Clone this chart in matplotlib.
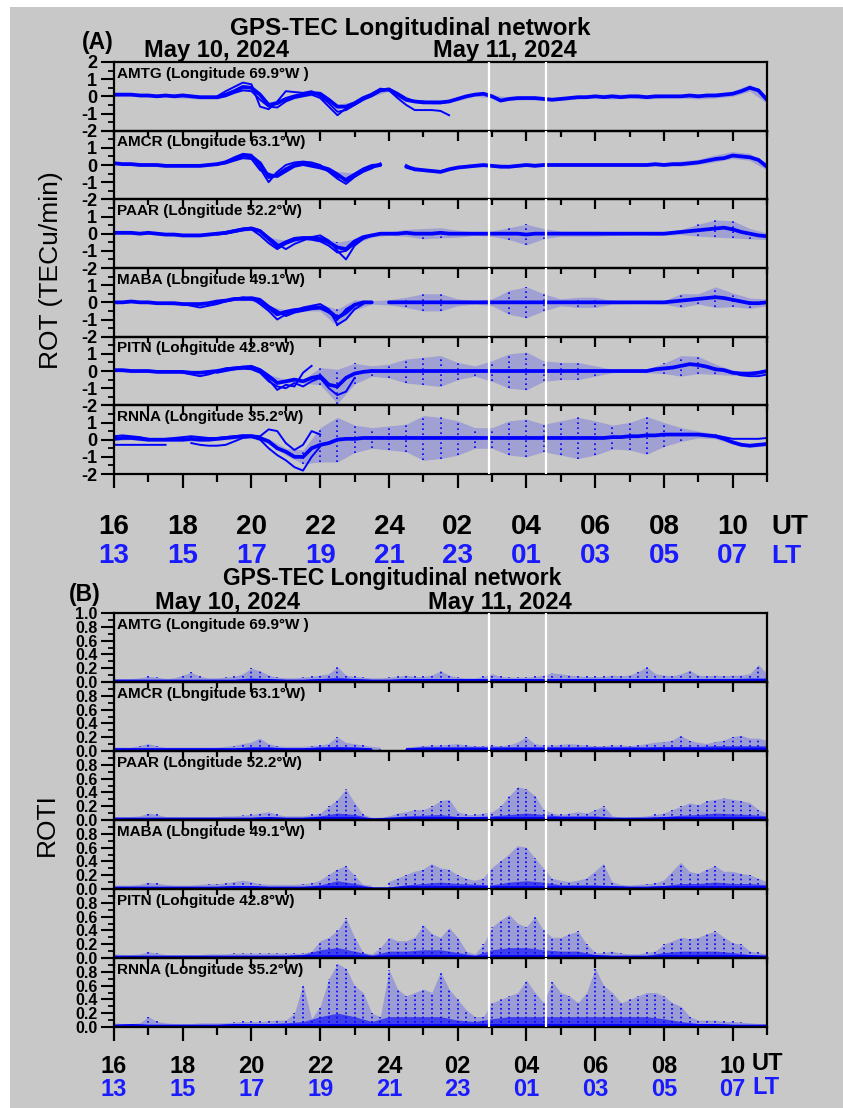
import numpy as np
import matplotlib
matplotlib.use("Agg")
import matplotlib.pyplot as plt
from matplotlib.ticker import MultipleLocator
from matplotlib.patches import Rectangle

nan = np.nan

# ------------------------------------------------------------------ data
STATIONS = ['AMTG (Longitude 69.9°W )', 'AMCR (Longitude 63.1°W)',
            'PAAR (Longitude 52.2°W)', 'MABA (Longitude 49.1°W)',
            'PITN (Longitude 42.8°W)', 'RNNA (Longitude 35.2°W)']

UT_TICKS = [16, 18, 20, 22, 24, 26, 28, 30, 32, 34]          # hours from May 10 00 UT
UT_LABELS = ['16', '18', '20', '22', '24', '02', '04', '06', '08', '10']
LT_LABELS = ['13', '15', '17', '19', '21', '23', '01', '03', '05', '07']
WHITE_LINES_UT = [26.9, 28.58]

T_FINE = np.arange(16.0, 35.001, 0.25)    # 77 samples (quarter hours)
T_COARSE = np.arange(16.0, 35.001, 0.5)   # 39 samples (half hours)

# ---- ROT (TECu/min): central trace every 0.25 h
ROT_AMTG = [0.10, 0.10, 0.10, 0.05, 0.05, 0.00, 0.05, 0.00, 0.05, 0.00, -0.05, -0.05,
            -0.05, 0.10, 0.30, 0.55, 0.50, 0.10, -0.50, -0.40, -0.15, 0.00, 0.10, 0.20,
            0.15, -0.20, -0.60, -0.60, -0.40, -0.10, 0.10, 0.35, 0.40, 0.10, -0.20, -0.30,
            -0.35, -0.35, -0.35, -0.30, -0.15, 0.00, 0.10, 0.15, 0.00, -0.25, -0.15, -0.10,
            -0.10, -0.10, -0.15, -0.20, -0.15, -0.10, -0.05, -0.05, 0.00, -0.05, 0.00, -0.05,
            0.00, 0.00, -0.05, 0.00, 0.00, 0.00, 0.00, 0.05, 0.00, 0.05, 0.05, 0.10,
            0.15, 0.30, 0.50, 0.35, -0.20]
ROT_AMCR = [0.10, 0.05, 0.05, 0.00, 0.00, 0.00, -0.05, -0.05, -0.05, -0.05, -0.05, 0.00,
            0.05, 0.15, 0.35, 0.55, 0.50, 0.10, -0.70, -0.60, -0.25, 0.00, 0.10, 0.00,
            -0.10, -0.25, -0.55, -0.90, -0.60, -0.30, -0.10, 0.00, nan, nan, -0.10, -0.25,
            -0.30, -0.35, -0.40, -0.25, -0.15, -0.10, -0.05, 0.00, -0.05, -0.10, -0.10, -0.05,
            0.00, -0.05, 0.00, 0.00, 0.00, 0.00, 0.00, 0.00, 0.00, 0.00, 0.00, 0.00,
            0.00, 0.00, 0.00, 0.05, 0.00, 0.05, 0.05, 0.10, 0.15, 0.25, 0.35, 0.40,
            0.55, 0.50, 0.45, 0.30, -0.10]
ROT_PAAR = [0.05, 0.05, 0.05, 0.00, 0.05, 0.00, -0.05, -0.05, -0.10, -0.10, -0.10, -0.05,
            0.00, 0.05, 0.15, 0.25, 0.30, 0.15, -0.30, -0.75, -0.50, -0.30, -0.25, -0.25,
            -0.30, -0.50, -0.80, -0.90, -0.45, -0.20, -0.10, 0.00, 0.00, 0.00, 0.05, 0.00,
            0.00, 0.00, 0.05, 0.00, 0.00, 0.00, 0.00, 0.00, 0.00, 0.00, 0.00, 0.00,
            -0.05, 0.00, 0.00, 0.00, 0.00, 0.00, 0.00, 0.00, 0.00, 0.00, 0.00, 0.00,
            0.00, 0.00, 0.00, 0.00, 0.00, 0.05, 0.10, 0.15, 0.20, 0.25, 0.30, 0.35,
            0.25, 0.10, 0.00, -0.10, -0.15]
ROT_MABA = [0.00, 0.00, 0.05, 0.00, 0.00, -0.05, -0.05, -0.05, -0.10, -0.10, -0.10, -0.05,
            0.05, 0.10, 0.20, 0.20, 0.20, 0.10, -0.30, -0.70, -0.55, -0.45, -0.40, -0.30,
            -0.30, -0.50, -0.90, -0.60, -0.15, 0.00, 0.00, nan, 0.00, 0.00, 0.00, 0.00,
            0.00, 0.00, 0.00, 0.00, 0.00, 0.00, 0.00, 0.00, 0.00, 0.00, 0.00, 0.00,
            0.00, 0.00, 0.00, 0.00, 0.00, 0.00, 0.00, 0.00, 0.00, 0.00, 0.00, 0.00,
            0.00, 0.00, 0.00, 0.00, 0.00, 0.05, 0.10, 0.15, 0.20, 0.25, 0.30, 0.25,
            0.15, 0.05, -0.05, -0.05, 0.00]
ROT_PITN = [0.05, 0.05, 0.00, 0.00, 0.00, -0.05, -0.05, -0.05, -0.05, -0.10, -0.10, -0.05,
            0.00, 0.10, 0.15, 0.20, 0.20, 0.05, -0.30, -0.70, -0.60, -0.50, -0.60, -0.40,
            -0.30, -0.80, -0.90, -0.40, -0.15, -0.05, 0.00, 0.00, 0.00, 0.00, 0.00, 0.00,
            0.00, 0.00, 0.00, 0.00, 0.00, 0.00, 0.00, 0.00, 0.00, 0.00, 0.00, 0.00,
            0.00, 0.00, 0.00, 0.00, 0.00, 0.00, 0.00, 0.00, 0.00, 0.00, 0.00, 0.00,
            0.00, 0.00, 0.00, 0.10, 0.15, 0.20, 0.30, 0.40, 0.35, 0.25, 0.10, 0.05,
            -0.10, -0.15, -0.15, -0.10, 0.00]
ROT_RNNA = [0.05, 0.10, 0.10, 0.05, 0.00, 0.00, 0.00, 0.00, 0.00, 0.05, 0.00, 0.00,
            0.05, 0.10, 0.15, 0.20, 0.20, 0.10, -0.10, -0.50, -0.70, -1.00, -1.00, -0.50,
            -0.30, -0.20, 0.00, 0.05, 0.05, 0.10, 0.10, 0.10, 0.10, 0.10, 0.10, 0.10,
            0.10, 0.10, 0.10, 0.10, 0.10, 0.10, 0.10, 0.10, 0.10, 0.10, 0.10, 0.10,
            0.10, 0.10, 0.10, 0.10, 0.10, 0.10, 0.10, 0.10, 0.10, 0.10, 0.15, 0.15,
            0.20, 0.20, 0.25, 0.25, 0.30, 0.30, 0.30, 0.30, 0.30, 0.25, 0.20, 0.05,
            -0.15, -0.30, -0.35, -0.30, -0.25]

# ---- additional satellite arcs: (start hour, values every 0.25 h)
ALT_AMTG = [(19.0, [0.00, 0.30, 0.55, 0.80, 0.70, -0.60, -0.75, -0.30, 0.30, 0.25, 0.20, 0.30,
                    0.00, -0.40, -0.90, -0.80, -0.50, -0.20, 0.15, 0.45, 0.35, -0.10, -0.50, -0.80,
                    -0.80, -0.80, -0.85, -1.10]),
            (19.0, [-0.10, 0.00, 0.20, 0.35, 0.30, -0.20, -0.60, -0.65, -0.30, -0.10, 0.00, 0.10,
                    -0.10, -0.60, -1.10, -0.70, -0.50, -0.20, 0.00, 0.30, 0.45, 0.20, -0.10, -0.30,
                    -0.30, -0.40, -0.40, -0.30, -0.15])]
ALT_AMCR = [(19.0, [0.00, 0.20, 0.45, 0.65, 0.60, -0.20, -1.00, -0.40, 0.00, 0.15, 0.20, 0.15,
                    0.00, -0.40, -0.80, -1.10, -0.70, -0.40, -0.20, 0.10, nan, nan, 0.00, -0.30]),
            (19.0, [0.05, 0.10, 0.25, 0.40, 0.35, -0.30, -0.50, -0.70, -0.40, -0.10, 0.00, -0.10,
                    -0.20, -0.35, -0.70, -0.80, -0.50, -0.20, 0.00, 0.05])]
ALT_PAAR = [(19.0, [0.00, 0.10, 0.20, 0.30, 0.35, 0.20, -0.20, -0.60, -0.90, -0.60, -0.40, -0.20,
                    -0.10, -0.40, -1.00, -1.50, -0.70, -0.30, -0.10, 0.00]),
            (19.0, [-0.05, 0.00, 0.10, 0.20, 0.25, -0.10, -0.55, -0.90, -0.60, -0.40, -0.30, -0.35,
                    -0.45, -0.70, -1.10, -1.00, -0.60, -0.30, -0.10])]
ALT_MABA = [(19.0, [0.00, 0.10, 0.20, 0.30, 0.25, -0.10, -0.50, -1.00, -0.70, -0.50, -0.30, -0.20,
                    -0.10, -0.40, -1.30, -1.00, -0.40, -0.10]),
            (18.0, [-0.10, -0.20, -0.30, -0.20, -0.10, 0.05, 0.15, 0.25, 0.30, 0.20, -0.20, -0.50,
                    -0.80, -0.60, -0.50, -0.40, -0.35, -0.60, -1.00, -0.40, -0.10])]
ALT_PITN = [(18.0, [-0.10, -0.20, -0.30, -0.20, -0.05, 0.15, 0.20, 0.25, 0.30, 0.10, -0.50, -1.10,
                    -0.80, -0.90, -0.10, 0.30]),
            (19.0, [-0.10, 0.00, 0.10, 0.15, 0.10, -0.10, -0.60, -0.90, -1.00, -0.70, -0.90, -0.60,
                    -0.40, -1.00, -1.40, -1.20, -0.40]),
            (33.75, [0.00, -0.10, -0.25, -0.30, -0.30, -0.20])]
ALT_RNNA = [(16.0, [0.20, 0.25, 0.20, 0.15, 0.05, 0.00, 0.05, 0.10, 0.15, 0.20, 0.15, 0.10,
                    0.10, 0.15, 0.20, 0.25, 0.25, 0.20, 0.60, 0.50, -0.20, -0.60, -0.30, 0.50, 0.30]),
            (16.0, [-0.30, -0.30, -0.30, -0.30, -0.30, -0.30, -0.30, nan, nan, -0.20, -0.30, -0.35,
                    -0.35, -0.30, -0.10, 0.10, 0.15, 0.00, -0.50, -0.90, -1.20, -1.60, -1.80, -1.00,
                    -0.40]),
            (33.5, [0.25, 0.15, 0.05, 0.05, 0.05, 0.05, 0.10])]

# ---- half-width of the scattered ROT points every 0.5 h
AMP_AMTG = [0.10, 0.10, 0.10, 0.10, 0.15, 0.10, 0.10, 0.10, 0.10, 0.15, 0.10, 0.10, 0.10,
            0.15, 0.10, 0.10, 0.10, 0.10, 0.10, 0.10, 0.10, 0.10, 0.10, 0.10, 0.10, 0.10,
            0.10, 0.10, 0.10, 0.15, 0.10, 0.10, 0.10, 0.10, 0.15, 0.15, 0.15, 0.20, 0.20]
AMP_AMCR = [0.10, 0.10, 0.10, 0.10, 0.10, 0.10, 0.10, 0.10, 0.10, 0.15, 0.10, 0.10, 0.10,
            0.15, 0.10, 0.10, nan, 0.10, 0.10, 0.10, 0.10, 0.10, 0.10, 0.10, 0.10, 0.10,
            0.10, 0.10, 0.10, 0.10, 0.10, 0.10, 0.10, 0.15, 0.15, 0.20, 0.20, 0.20, 0.20]
AMP_PAAR = [0.08, 0.10, 0.08, 0.08, 0.10, 0.10, 0.08, 0.08, 0.10, 0.10, 0.10, 0.10, 0.15,
            0.30, 0.15, 0.10, 0.10, 0.20, 0.30, 0.30, 0.20, 0.10, 0.15, 0.35, 0.60, 0.30,
            0.15, 0.15, 0.15, 0.10, 0.08, 0.08, 0.10, 0.15, 0.35, 0.50, 0.50, 0.30, 0.20]
AMP_MABA = [0.08, 0.08, 0.08, 0.08, 0.10, 0.10, 0.10, 0.10, 0.10, 0.10, 0.10, 0.10, 0.20,
            0.50, 0.30, 0.10, 0.15, 0.30, 0.50, 0.50, 0.20, 0.10, 0.20, 0.70, 0.90, 0.50,
            0.20, 0.30, 0.30, 0.10, 0.08, 0.08, 0.10, 0.40, 0.30, 0.60, 0.40, 0.30, 0.20]
AMP_PITN = [0.10, 0.10, 0.08, 0.08, 0.10, 0.10, 0.10, 0.10, 0.10, 0.10, 0.10, 0.10, 0.50,
            1.00, 0.60, 0.30, 0.40, 0.70, 0.80, 0.90, 0.50, 0.30, 0.60, 1.00, 1.10, 0.60,
            0.50, 0.50, 0.30, 0.10, 0.08, 0.10, 0.30, 0.60, 0.50, 0.30, 0.15, 0.10, 0.10]
AMP_RNNA = [0.10, 0.10, 0.10, 0.10, 0.10, 0.10, 0.10, 0.10, 0.10, 0.15, 0.20, 0.40, 1.00,
            1.30, 0.80, 0.60, 0.70, 0.80, 1.30, 1.20, 1.00, 0.60, 0.60, 1.00, 1.10, 0.80,
            1.00, 1.20, 1.00, 0.70, 0.80, 1.10, 0.70, 0.40, 0.20, 0.15, 0.10, 0.10, 0.10]

# ---- ROTI (TECu/min): dense band top every 0.5 h
ROTI_CORE_AMTG = [0.04, 0.04, 0.04, 0.04, 0.04, 0.04, 0.04, 0.04, 0.06, 0.05, 0.04, 0.04, 0.05,
                  0.07, 0.05, 0.04, 0.04, 0.05, 0.05, 0.05, 0.05, 0.05, 0.05, 0.05, 0.05, 0.05,
                  0.05, 0.05, 0.05, 0.05, 0.05, 0.05, 0.05, 0.05, 0.05, 0.05, 0.05, 0.06, 0.06]
ROTI_CORE_AMCR = [0.04, 0.04, 0.04, 0.04, 0.04, 0.04, 0.04, 0.04, 0.05, 0.05, 0.04, 0.04, 0.05,
                  0.06, 0.05, 0.04, nan, 0.04, 0.05, 0.05, 0.05, 0.05, 0.05, 0.05, 0.05, 0.05,
                  0.05, 0.05, 0.05, 0.05, 0.05, 0.05, 0.06, 0.06, 0.06, 0.07, 0.07, 0.07, 0.07]
ROTI_CORE_PAAR = [0.04, 0.04, 0.04, 0.04, 0.04, 0.04, 0.04, 0.04, 0.04, 0.05, 0.04, 0.04, 0.06,
                  0.10, 0.08, 0.03, 0.04, 0.06, 0.07, 0.08, 0.05, 0.05, 0.06, 0.08, 0.10, 0.08,
                  0.06, 0.06, 0.06, 0.04, 0.04, 0.04, 0.05, 0.07, 0.08, 0.10, 0.09, 0.08, 0.06]
ROTI_CORE_MABA = [0.04, 0.04, 0.04, 0.04, 0.04, 0.04, 0.04, 0.05, 0.05, 0.04, 0.04, 0.04, 0.06,
                  0.12, 0.08, 0.03, 0.03, 0.06, 0.08, 0.10, 0.08, 0.07, 0.06, 0.10, 0.12, 0.10,
                  0.06, 0.06, 0.06, 0.05, 0.04, 0.04, 0.05, 0.08, 0.08, 0.10, 0.08, 0.08, 0.06]
ROTI_CORE_PITN = [0.04, 0.04, 0.04, 0.04, 0.04, 0.04, 0.04, 0.04, 0.04, 0.04, 0.04, 0.05, 0.12,
                  0.15, 0.10, 0.04, 0.10, 0.10, 0.12, 0.12, 0.08, 0.04, 0.12, 0.15, 0.15, 0.12,
                  0.10, 0.10, 0.05, 0.04, 0.04, 0.04, 0.08, 0.10, 0.10, 0.10, 0.08, 0.05, 0.04]
ROTI_CORE_RNNA = [0.04, 0.05, 0.04, 0.04, 0.04, 0.04, 0.04, 0.05, 0.05, 0.05, 0.06, 0.08, 0.15,
                  0.20, 0.15, 0.08, 0.15, 0.15, 0.15, 0.15, 0.10, 0.08, 0.12, 0.15, 0.15, 0.15,
                  0.15, 0.15, 0.15, 0.15, 0.15, 0.15, 0.12, 0.08, 0.05, 0.05, 0.04, 0.04, 0.04]

# ---- ROTI: highest scattered points every 0.25 h
ROTI_PEAK_AMTG = [0.05, 0.05, 0.05, 0.06, 0.08, 0.07, 0.05, 0.06, 0.10, 0.14, 0.08, 0.06,
                  0.06, 0.07, 0.08, 0.12, 0.20, 0.16, 0.10, 0.07, 0.06, 0.06, 0.07, 0.08,
                  0.10, 0.12, 0.22, 0.10, 0.08, 0.07, 0.06, 0.06, 0.07, 0.08, 0.10, 0.08,
                  0.08, 0.10, 0.16, 0.10, 0.07, 0.06, 0.06, 0.08, 0.12, 0.08, 0.07, 0.07,
                  0.07, 0.08, 0.10, 0.13, 0.12, 0.10, 0.09, 0.08, 0.08, 0.08, 0.10, 0.09,
                  0.10, 0.15, 0.22, 0.12, 0.10, 0.09, 0.12, 0.17, 0.10, 0.09, 0.10, 0.09,
                  0.10, 0.10, 0.12, 0.25, 0.12]
ROTI_PEAK_AMCR = [0.05, 0.05, 0.05, 0.07, 0.10, 0.07, 0.05, 0.05, 0.05, 0.05, 0.05, 0.05,
                  0.05, 0.06, 0.07, 0.10, 0.12, 0.18, 0.10, 0.07, 0.06, 0.06, 0.06, 0.07,
                  0.08, 0.10, 0.20, 0.12, 0.10, 0.08, 0.06, 0.05, nan, nan, 0.05, 0.06,
                  0.07, 0.08, 0.08, 0.09, 0.10, 0.08, 0.07, 0.07, 0.08, 0.07, 0.08, 0.12,
                  0.20, 0.10, 0.08, 0.08, 0.09, 0.10, 0.09, 0.08, 0.07, 0.07, 0.08, 0.08,
                  0.07, 0.08, 0.10, 0.12, 0.13, 0.15, 0.22, 0.15, 0.12, 0.10, 0.13, 0.15,
                  0.20, 0.22, 0.18, 0.18, 0.15]
ROTI_PEAK_PAAR = [0.05, 0.05, 0.05, 0.06, 0.10, 0.08, 0.05, 0.05, 0.05, 0.05, 0.05, 0.05,
                  0.05, 0.06, 0.06, 0.07, 0.08, 0.10, 0.12, 0.08, 0.06, 0.06, 0.06, 0.08,
                  0.10, 0.20, 0.30, 0.45, 0.25, 0.08, 0.04, 0.04, 0.06, 0.10, 0.12, 0.15,
                  0.15, 0.20, 0.28, 0.30, 0.12, 0.08, 0.08, 0.10, 0.12, 0.20, 0.35, 0.48,
                  0.45, 0.35, 0.15, 0.10, 0.08, 0.10, 0.12, 0.10, 0.15, 0.20, 0.06, 0.04,
                  0.04, 0.05, 0.06, 0.08, 0.10, 0.15, 0.20, 0.25, 0.22, 0.28, 0.30, 0.32,
                  0.30, 0.28, 0.25, 0.15, 0.10]
ROTI_PEAK_MABA = [0.05, 0.05, 0.05, 0.06, 0.09, 0.08, 0.06, 0.05, 0.05, 0.05, 0.06, 0.07,
                  0.07, 0.08, 0.10, 0.12, 0.10, 0.07, 0.06, 0.06, 0.06, 0.06, 0.07, 0.08,
                  0.12, 0.20, 0.28, 0.33, 0.20, 0.06, 0.05, nan, 0.10, 0.15, 0.20, 0.25,
                  0.28, 0.36, 0.30, 0.28, 0.20, 0.15, 0.12, 0.15, 0.30, 0.40, 0.50, 0.62,
                  0.60, 0.45, 0.30, 0.15, 0.12, 0.10, 0.12, 0.15, 0.25, 0.36, 0.10, 0.06,
                  0.05, 0.06, 0.07, 0.08, 0.12, 0.25, 0.38, 0.25, 0.22, 0.28, 0.33, 0.25,
                  0.25, 0.22, 0.20, 0.15, 0.10]
ROTI_PEAK_PITN = [0.06, 0.05, 0.05, 0.06, 0.09, 0.07, 0.05, 0.05, 0.05, 0.05, 0.05, 0.06,
                  0.06, 0.06, 0.07, 0.07, 0.07, 0.07, 0.07, 0.07, 0.07, 0.07, 0.07, 0.10,
                  0.25, 0.30, 0.40, 0.58, 0.30, 0.08, 0.06, 0.15, 0.30, 0.25, 0.25, 0.30,
                  0.48, 0.35, 0.30, 0.44, 0.30, 0.10, 0.06, 0.20, 0.45, 0.55, 0.63, 0.50,
                  0.45, 0.60, 0.40, 0.30, 0.30, 0.35, 0.39, 0.20, 0.08, 0.08, 0.10, 0.07,
                  0.06, 0.06, 0.08, 0.10, 0.20, 0.25, 0.30, 0.28, 0.30, 0.35, 0.39, 0.30,
                  0.22, 0.20, 0.10, 0.08, 0.06]
ROTI_PEAK_RNNA = [0.06, 0.05, 0.05, 0.06, 0.15, 0.08, 0.06, 0.05, 0.05, 0.05, 0.06, 0.06,
                  0.06, 0.06, 0.07, 0.08, 0.08, 0.08, 0.09, 0.10, 0.10, 0.20, 0.62, 0.12,
                  0.30, 0.70, 0.92, 0.85, 0.60, 0.50, 0.20, 0.15, 0.83, 0.55, 0.45, 0.50,
                  0.55, 0.50, 0.80, 0.55, 0.40, 0.25, 0.15, 0.15, 0.35, 0.40, 0.45, 0.50,
                  0.68, 0.50, 0.35, 0.66, 0.50, 0.45, 0.35, 0.50, 0.85, 0.60, 0.50, 0.35,
                  0.40, 0.45, 0.50, 0.50, 0.45, 0.35, 0.30, 0.15, 0.10, 0.10, 0.10, 0.08,
                  0.08, 0.07, 0.06, 0.05, 0.05]

ROT_SERIES = [ROT_AMTG, ROT_AMCR, ROT_PAAR, ROT_MABA, ROT_PITN, ROT_RNNA]
ALT_SERIES = [ALT_AMTG, ALT_AMCR, ALT_PAAR, ALT_MABA, ALT_PITN, ALT_RNNA]
AMP_SERIES = [AMP_AMTG, AMP_AMCR, AMP_PAAR, AMP_MABA, AMP_PITN, AMP_RNNA]
CORE_SERIES = [ROTI_CORE_AMTG, ROTI_CORE_AMCR, ROTI_CORE_PAAR, ROTI_CORE_MABA, ROTI_CORE_PITN, ROTI_CORE_RNNA]
PEAK_SERIES = [ROTI_PEAK_AMTG, ROTI_PEAK_AMCR, ROTI_PEAK_PAAR, ROTI_PEAK_MABA, ROTI_PEAK_PITN, ROTI_PEAK_RNNA]

# ------------------------------------------------------------------ style
BLUE = '#0000ff'
LT_BLUE = '#1a1aff'
BG = '#c8c8c8'
plt.rcParams['font.family'] = ['Liberation Sans', 'DejaVu Sans']
plt.rcParams['font.weight'] = 'bold'
plt.rcParams['axes.unicode_minus'] = False

W, H = 843, 1108
fig = plt.figure(figsize=(W / 100, H / 100), dpi=100)
fig.patch.set_facecolor('white')
fig.patches.append(Rectangle((10 / W, 0), 1 - 10 / W, 1 - 7 / H, transform=fig.transFigure,
                             facecolor=BG, edgecolor='none', zorder=-100))


def px_axes(left, top, width, height):
    return fig.add_axes([left / W, 1 - (top + height) / H, width / W, height / H])


LEFT, WIDTH = 114, 653
A_TOP, A_H = 62, 68.67
B_TOP, B_H = 613, 69


def style(ax, last, yticks, ylabels, yminor, ylab_size, ut_size, ut_pad, lt_loc):
    ax.set_facecolor('none')
    ax.set_xlim(16, 35)
    ax.set_ylim(yticks[0], yticks[-1])
    for s in ax.spines.values():
        s.set_linewidth(1.6)
        s.set_color('black')
    ax.set_yticks(yticks, ylabels)
    ax.yaxis.set_minor_locator(MultipleLocator(yminor))
    ax.tick_params(axis='y', which='major', direction='out', length=9.5, width=1.5,
                   labelsize=ylab_size, pad=2.5)
    ax.tick_params(axis='y', which='minor', direction='out', length=4.5, width=1.3)
    ax.xaxis.set_minor_locator(MultipleLocator(1))
    if last:
        ax.set_xticks(UT_TICKS, UT_LABELS)
        ax.tick_params(axis='x', which='major', direction='out', length=10, width=1.6,
                       labelsize=ut_size, pad=ut_pad)
        ax.tick_params(axis='x', which='minor', direction='out', length=5.5, width=1.6)
        sec = ax.secondary_xaxis(lt_loc)
        sec.set_xticks(UT_TICKS, LT_LABELS)
        sec.tick_params(axis='x', length=0, pad=0, labelsize=ut_size, labelcolor=LT_BLUE)
        sec.spines['bottom'].set_visible(False)
    else:
        ax.set_xticks(UT_TICKS, [''] * len(UT_TICKS))
        ax.tick_params(axis='x', which='major', direction='out', length=7.5, width=1.6,
                       labelbottom=False)
        ax.tick_params(axis='x', which='minor', direction='out', length=4, width=1.6)
    for xv in WHITE_LINES_UT:
        ax.axvline(xv, color='white', lw=1.6, zorder=6)


# ------------------------------------------------------------------ panel A : ROT
for i in range(6):
    ax = px_axes(LEFT, A_TOP + i * A_H, WIDTH, A_H)
    main = np.array(ROT_SERIES[i])
    amp = np.array(AMP_SERIES[i])
    mc = main[::2]
    ax.fill_between(T_COARSE, mc - amp, mc + amp, color=BLUE, alpha=0.2, lw=0)
    big = amp >= 0.3
    ax.vlines(T_COARSE[big], (mc - amp)[big], (mc + amp)[big], colors=BLUE,
              linestyles=(0, (1, 2)), lw=1.2)
    for start, vals in ALT_SERIES[i]:
        t = start + 0.25 * np.arange(len(vals))
        ax.plot(t, vals, color=BLUE, lw=1.4)
    ax.plot(T_FINE, main, color=BLUE, lw=2.7, solid_capstyle='round')
    labels = ['-2', '-1', '0', '1', '2'] if i == 0 else ['-2', '-1', '0', '1', '']
    style(ax, i == 5, [-2, -1, 0, 1, 2], labels, 0.5, 13, 20, 19, -1.0)
    ax.text(0.005, 0.93, STATIONS[i], transform=ax.transAxes, ha='left', va='top',
            fontsize=11, fontweight='bold')

# ------------------------------------------------------------------ panel B : ROTI
for i in range(6):
    ax = px_axes(LEFT, B_TOP + i * B_H, WIDTH, B_H)
    core = np.array(CORE_SERIES[i])
    peak = np.array(PEAK_SERIES[i])
    ax.fill_between(T_FINE, 0, peak, color=BLUE, alpha=0.22, lw=0)
    ax.vlines(T_FINE, 0, peak, colors=BLUE, linestyles=(0, (1, 1.6)), lw=1.2)
    ax.fill_between(T_COARSE, 0, core, color=BLUE, alpha=0.6, lw=0)
    ax.fill_between(T_COARSE, 0, np.minimum(core, 0.05), color=BLUE, lw=0)
    yt = [0.0, 0.2, 0.4, 0.6, 0.8, 1.0]
    labels = ['0.0', '0.2', '0.4', '0.6', '0.8', '1.0'] if i == 0 else \
             ['0.0', '0.2', '0.4', '0.6', '0.8', '']
    style(ax, i == 5, yt, labels, 0.1, 11.5, 17, 10, -0.74)
    ax.text(0.005, 0.93, STATIONS[i], transform=ax.transAxes, ha='left', va='top',
            fontsize=11, fontweight='bold')

# ------------------------------------------------------------------ texts
def ftext(x, y, s, **kw):
    fig.text(x / W, 1 - y / H, s, **kw)


ftext(410, 28, 'GPS-TEC Longitudinal network', ha='center', va='center', fontsize=17.5)
ftext(98, 42, '(A)', ha='center', va='center', fontsize=16.5)
ftext(216, 51, 'May 10, 2024', ha='center', va='center', fontsize=17)
ftext(505, 51, 'May 11, 2024', ha='center', va='center', fontsize=17)
ftext(51, 270, 'ROT (TECu/min)', ha='center', va='center', rotation=90, fontsize=19,
      fontweight='normal')
ftext(771, 527, 'UT', ha='left', va='center', fontsize=20)
ftext(771, 556, 'LT', ha='left', va='center', fontsize=19, color=LT_BLUE)

ftext(392, 578, 'GPS-TEC Longitudinal network', ha='center', va='center', fontsize=16.5)
ftext(85, 594, '(B)', ha='center', va='center', fontsize=16.5)
ftext(227, 603, 'May 10, 2024', ha='center', va='center', fontsize=17)
ftext(500, 603, 'May 11, 2024', ha='center', va='center', fontsize=17)
ftext(47, 825, 'ROTI', ha='center', va='center', rotation=90, fontsize=19,
      fontweight='normal')
ftext(752, 1063, 'UT', ha='left', va='center', fontsize=17)
ftext(752, 1087, 'LT', ha='left', va='center', fontsize=17, color=LT_BLUE)

fig.savefig('out.png', dpi=100, facecolor=fig.get_facecolor())
